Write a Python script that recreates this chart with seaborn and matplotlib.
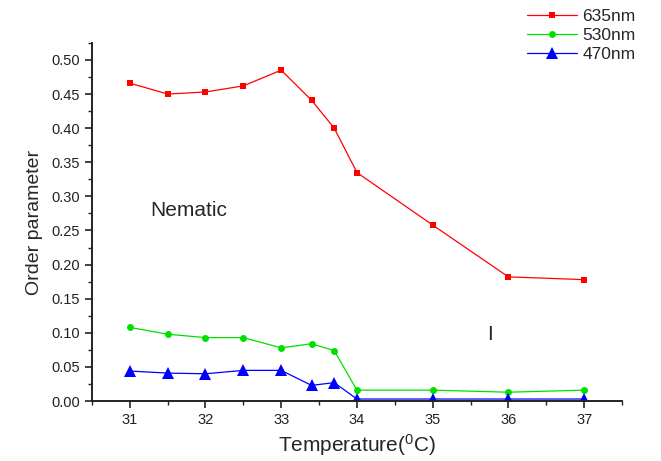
import matplotlib
matplotlib.use("Agg")
import matplotlib.pyplot as plt
from matplotlib.ticker import MultipleLocator
import seaborn as sns
import pandas as pd

# temperature (deg C) and order parameter per wavelength
temps = [31, 31.5, 32, 32.5, 33, 33.4, 33.7, 34, 35, 36, 37]
s_635 = [0.466, 0.450, 0.453, 0.462, 0.485, 0.441, 0.400, 0.335, 0.258, 0.182, 0.178]
s_530 = [0.108, 0.098, 0.093, 0.093, 0.078, 0.084, 0.074, 0.016, 0.016, 0.013, 0.016]
s_470 = [0.044, 0.041, 0.040, 0.045, 0.045, 0.023, 0.027, 0.003, 0.003, 0.003, 0.003]
series = ["635nm", "530nm", "470nm"]

df = pd.concat([
    pd.DataFrame({"T": temps, "S": vals, "wl": name})
    for name, vals in zip(series, [s_635, s_530, s_470])
])

sns.set_style("ticks")
plt.rcParams["font.family"] = ["Liberation Sans", "DejaVu Sans"]
plt.rcParams["mathtext.fontset"] = "custom"
plt.rcParams["mathtext.rm"] = "Liberation Sans"

fig = plt.figure(figsize=(6.61, 4.61), dpi=100)
ax = fig.add_axes([0.139, 0.130, 0.802, 0.777])

sns.lineplot(
    data=df, x="T", y="S", hue="wl", style="wl",
    palette={"635nm": "#ff0000", "530nm": "#00e000", "470nm": "#0000ff"},
    markers={"635nm": "s", "530nm": "o", "470nm": "^"},
    dashes=False, linewidth=0.9,
    markersize=5, markeredgewidth=0,
    ax=ax,
)
# bigger triangles like the original
for line in ax.get_lines():
    if line.get_marker() == "^":
        line.set_markersize(8.5)

ax.set_xlim(30.5, 37.5)
ax.set_ylim(0, 0.525)
ax.xaxis.set_major_locator(MultipleLocator(1))
ax.xaxis.set_minor_locator(MultipleLocator(0.5))
ax.yaxis.set_major_locator(MultipleLocator(0.05))
ax.yaxis.set_minor_locator(MultipleLocator(0.025))
ax.yaxis.set_major_formatter(plt.FormatStrFormatter("%.2f"))
ax.tick_params(which="major", length=5, width=1.2, labelsize=10.5, colors="#222222")
ax.tick_params(which="minor", length=3, width=1.0, colors="#222222")
sns.despine(ax=ax)
for sp in ["left", "bottom"]:
    ax.spines[sp].set_linewidth(1.4)
    ax.spines[sp].set_color("#222222")

ax.set_xlabel("Temperature($\\mathregular{^0}$C)", fontsize=15, labelpad=4)
ax.set_ylabel("Order parameter", fontsize=14, labelpad=6)

ax.text(31.27, 0.280, "Nematic", fontsize=15, va="center")
ax.text(35.72, 0.098, "I", fontsize=15, va="center")

leg = ax.legend(
    loc="upper left", bbox_to_anchor=(0.797, 0.98), bbox_transform=fig.transFigure,
    frameon=False, fontsize=12.5, handlelength=2.9, handletextpad=0.3,
    labelspacing=0.2, borderaxespad=0, borderpad=0,
)
leg.set_title(None)

fig.savefig("out.png", dpi=100)
